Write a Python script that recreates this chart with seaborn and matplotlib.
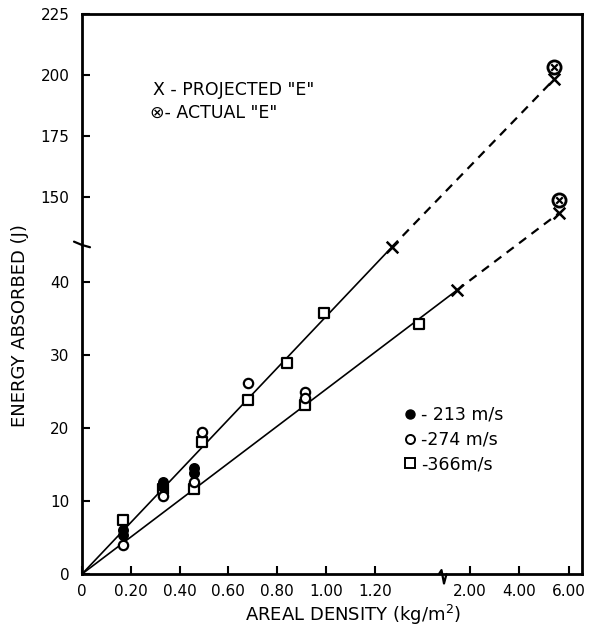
import numpy as np
import pandas as pd
import matplotlib
matplotlib.use("Agg")
import matplotlib.pyplot as plt
import seaborn as sns
from matplotlib.lines import Line2D

# ---------------- data ----------------
d213_x = [0.17, 0.17, 0.33, 0.33, 0.46, 0.46]
d213_y = [6.0, 5.3, 12.6, 11.9, 14.5, 13.8]
d274_x = [0.17, 0.33, 0.46, 0.49, 0.68, 0.915, 0.915]
d274_y = [4.0, 10.7, 12.6, 19.5, 26.2, 24.9, 24.1]
d366_x = [0.17, 0.33, 0.46, 0.49, 0.68, 0.84, 0.915, 0.99, 1.38]
d366_y = [7.4, 11.7, 11.6, 18.1, 23.8, 28.9, 23.2, 35.8, 34.2]

upper_solid_x = [0.0, 1.27]
upper_solid_y = [0.0, 44.8]
upper_dash_x = [1.27, 5.41]
upper_dash_y = [44.8, 198.4]
lower_solid_x = [0.0, 1.75]
lower_solid_y = [0.0, 38.9]
lower_dash_x = [1.75, 5.62]
lower_dash_y = [38.9, 143.4]
projected_x = [1.27, 5.41, 1.75, 5.62]
projected_y = [44.8, 198.4, 38.9, 143.4]
actual_x = [5.41, 5.62]
actual_y = [203.3, 148.8]

x_ticks = [0, 0.2, 0.4, 0.6, 0.8, 1.0, 1.2, 2.0, 4.0, 6.0]
x_ticklabels = ["0", "0.20", "0.40", "0.60", "0.80", "1.00", "1.20", "2.00", "4.00", "6.00"]
y_ticks = [0, 10, 20, 30, 40, 150, 175, 200, 225]
y_ticklabels = ["0", "10", "20", "30", "40", "150", "175", "200", "225"]

# ---------------- broken-axis scales ----------------
XB1, XB2, XT2 = 1.48, 2.0, 1.59
XS_MID = (XT2 - XB1) / (XB2 - XB1)
XS_R = 24.75 / 244.0

def fx(x):
    x = np.asarray(x, float)
    return np.where(x <= XB1, x,
                    np.where(x <= XB2, XB1 + (x - XB1) * XS_MID,
                             XT2 + (x - XB2) * XS_R))

def ix(t):
    t = np.asarray(t, float)
    return np.where(t <= XB1, t,
                    np.where(t <= XT2, XB1 + (t - XB1) / XS_MID,
                             XB2 + (t - XT2) / XS_R))

YL, YU, YEPS = 45.1, 130.4, 0.001
YS_U = 2.43 / 7.3
YT_U = YL + (YU - YL) * YEPS

def fy(y):
    y = np.asarray(y, float)
    return np.where(y <= YL, y,
                    np.where(y <= YU, YL + (y - YL) * YEPS,
                             YT_U + (y - YU) * YS_U))

def iy(t):
    t = np.asarray(t, float)
    return np.where(t <= YL, t,
                    np.where(t <= YT_U, YL + (t - YL) / YEPS,
                             YU + (t - YT_U) / YS_U))

# ---------------- figure ----------------
sns.set_style("ticks")
plt.rcParams["font.family"] = ["DejaVu Sans"]
plt.rcParams.update({"text.color": "black", "axes.labelcolor": "black",
                     "xtick.color": "black", "ytick.color": "black"})

W, H = 595, 632
fig = plt.figure(figsize=(W / 100, H / 100), dpi=100)
ax = fig.add_axes([82 / W, 1 - 574 / H, 500 / W, 560 / H])
ax.set_xscale("function", functions=(fx, ix))
ax.set_yscale("function", functions=(fy, iy))

lw = 1.2
sns.lineplot(x=upper_solid_x, y=upper_solid_y, ax=ax, color="black", lw=lw,
             estimator=None, sort=False)
sns.lineplot(x=lower_solid_x, y=lower_solid_y, ax=ax, color="black", lw=lw,
             estimator=None, sort=False)
sns.lineplot(x=upper_dash_x, y=upper_dash_y, ax=ax, color="black", lw=1.6,
             estimator=None, sort=False)
sns.lineplot(x=lower_dash_x, y=lower_dash_y, ax=ax, color="black", lw=1.6,
             estimator=None, sort=False)
for ln in ax.get_lines()[2:4]:
    ln.set_linestyle((0, (4, 3)))

sns.scatterplot(x=d366_x, y=d366_y, ax=ax, marker="s", s=50,
                facecolor="white", edgecolor="black", linewidth=1.6, zorder=3)
sns.scatterplot(x=d274_x, y=d274_y, ax=ax, marker="o", s=45,
                facecolor="white", edgecolor="black", linewidth=1.6, zorder=3)
sns.scatterplot(x=d213_x, y=d213_y, ax=ax, marker="o", s=45,
                facecolor="black", edgecolor="black", linewidth=1.2, zorder=4)
sns.scatterplot(x=projected_x, y=projected_y, ax=ax, marker="x", s=70,
                color="black", linewidth=1.8, zorder=4)
# actual "E": circled-times made of a thick circle plus a small x
sns.scatterplot(x=actual_x, y=actual_y, ax=ax, marker="o", s=90,
                facecolor="white", edgecolor="black", linewidth=2.0, zorder=5)
sns.scatterplot(x=actual_x, y=actual_y, ax=ax, marker="x", s=22,
                color="black", linewidth=1.6, zorder=6)

ax.set_xlim(0, 6.53)
ax.set_ylim(0, 225.2)
ax.set_xticks(x_ticks)
ax.set_xticklabels(x_ticklabels)
ax.set_yticks(y_ticks)
ax.set_yticklabels(y_ticklabels)
ax.minorticks_off()
ax.tick_params(direction="in", length=6, width=1.5, labelsize=11,
               colors="black", pad=7)
ax.tick_params(axis="y", pad=9)
for sp in ax.spines.values():
    sp.set_visible(True)
    sp.set_linewidth(2.0)
    sp.set_color("black")
ax.set_xlabel("")
ax.set_ylabel("")

# axis break marks
yb = (574 - 245) / 560
ax.plot([-0.016, 0.0, 0.016], [yb + 0.006, yb, yb - 0.004], transform=ax.transAxes,
        color="black", lw=1.6, clip_on=False)
xb = (443 - 82) / 500
ax.plot([xb - 0.008, xb - 0.003, xb + 0.002, xb + 0.007], [0, 0.007, -0.017, 0],
        transform=ax.transAxes, color="black", lw=1.6, clip_on=False)

# annotations
fig.text(153 / W, 1 - 90 / H, 'X - PROJECTED "E"', fontsize=12.5, va="center",
         ha="left", color="black")
fig.text(150 / W, 1 - 113 / H, '\u2297- ACTUAL "E"', fontsize=12.5, va="center",
         ha="left", color="black")

handles = [
    Line2D([], [], marker="o", ls="", markerfacecolor="black", markeredgecolor="black",
           markersize=6.5),
    Line2D([], [], marker="o", ls="", markerfacecolor="white", markeredgecolor="black",
           markersize=6.5, markeredgewidth=1.4),
    Line2D([], [], marker="s", ls="", markerfacecolor="white", markeredgecolor="black",
           markersize=7, markeredgewidth=1.4),
]
leg = ax.legend(handles, ["- 213 m/s", "-274 m/s", "-366m/s"], frameon=False,
                loc="upper left", bbox_to_anchor=((393 - 82) / 500, (574 - 397) / 560),
                borderpad=0, handletextpad=0.1, handlelength=1.0, labelspacing=0.4,
                fontsize=12.5)
for t in leg.get_texts():
    t.set_color("black")

fig.text(20 / W, 1 - 326 / H, "ENERGY ABSORBED (J)", rotation=90, fontsize=13,
         ha="center", va="center", color="black")
fig.text(353 / W, 1 - 615 / H, "AREAL DENSITY (kg/m$^2$)", fontsize=13,
         ha="center", va="center", color="black")

fig.savefig("out.png", dpi=100, facecolor="white")
